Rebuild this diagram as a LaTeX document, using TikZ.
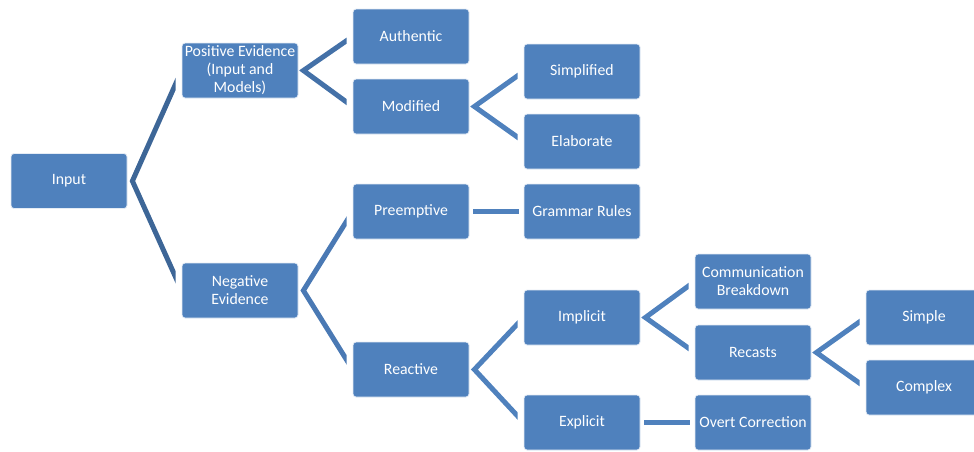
\documentclass[tikz,border=0pt]{standalone}
\usepackage{fontspec}
\setmainfont{Carlito}
\definecolor{boxblue}{HTML}{4F81BD}
\definecolor{lineA}{HTML}{3D6697}
\definecolor{lineB}{HTML}{4471A8}
\definecolor{lineC}{HTML}{4A79B4}
\tikzset{
  box/.style={rectangle, rounded corners=3pt, fill=boxblue, draw=white!85!boxblue, line width=0.8pt,
    minimum width=116pt, minimum height=55pt, inner sep=1pt, text=white, align=center,
    font=\fontsize{15.8}{18}\selectfont},
  conn/.style={line width=5pt, line join=miter, line cap=butt},
}
\newcommand\fork[4]{%
  \begin{scope}
    \clip ([xshift=1pt]#2.east |- T) rectangle ([xshift=-6pt]#3.west |- B);
    \draw[conn, draw=#1] (#3.west) -- ([xshift=5pt]#2.east) -- (#4.west);
  \end{scope}}
\begin{document}
\begin{tikzpicture}[x=1pt,y=-1pt]
  \useasboundingbox (0,0) rectangle (974,451);
  \coordinate (T) at (0,0);
  \coordinate (B) at (0,451);
  \node[box] (input) at (69,181) {Input};
  \node[box] (pos) at (240,70.5) {Positive Evidence\\(Input and\\Models)};
  \node[box] (neg) at (240,290.5) {Negative\\Evidence};
  \node[box] (auth) at (411,36.5) {Authentic};
  \node[box] (mod) at (411,106.5) {Modified};
  \node[box] (simp) at (582,71.5) {Simplified};
  \node[box] (elab) at (582,141.5) {Elaborate};
  \node[box] (pre) at (411,211.5) {Preemptive};
  \node[box] (gram) at (582,211.5) {Grammar Rules};
  \node[box] (react) at (411,369.5) {Reactive};
  \node[box] (impl) at (582,317.5) {Implicit};
  \node[box] (expl) at (582,422.5) {Explicit};
  \node[box] (comm) at (753,281.5) {Communication\\Breakdown};
  \node[box] (rec) at (753,352.5) {Recasts};
  \node[box] (overt) at (753,422.5) {Overt Correction};
  \node[box] (simple) at (924,317.5) {Simple};
  \node[box] (complex) at (924,387.5) {Complex};
  \fork{lineA}{input}{pos}{neg}
  \fork{lineB}{pos}{auth}{mod}
  \fork{lineC}{neg}{pre}{react}
  \fork{boxblue}{mod}{simp}{elab}
  \fork{boxblue}{react}{impl}{expl}
  \fork{boxblue}{impl}{comm}{rec}
  \fork{boxblue}{rec}{simple}{complex}
  \draw[conn, draw=boxblue, line width=4.5pt] ([xshift=4pt]pre.east) -- ([xshift=-5pt]gram.west);
  \draw[conn, draw=boxblue, line width=4.5pt] ([xshift=4pt]expl.east) -- ([xshift=-5pt]overt.west);
\end{tikzpicture}
\end{document}
